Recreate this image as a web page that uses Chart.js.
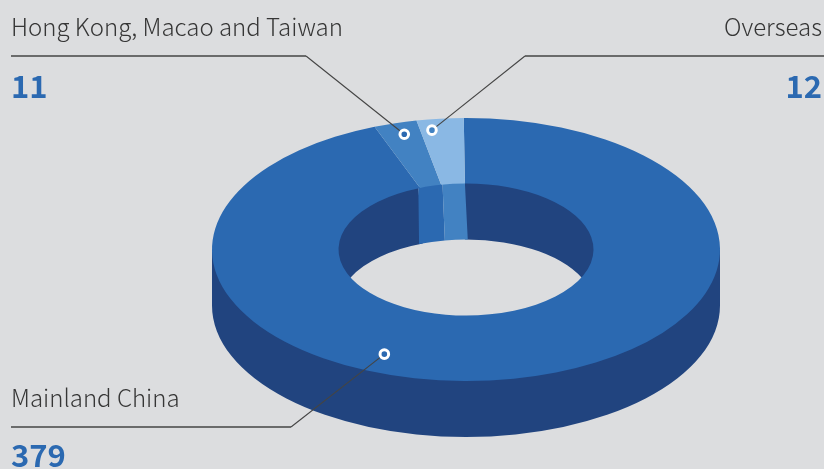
<!DOCTYPE html>
<html>
<head>
<meta charset="utf-8">
<style>
  html, body { margin: 0; padding: 0; background: #dcdddf; }
  canvas { display: block; }
</style>
<script src="https://cdn.jsdelivr.net/npm/chart.js@4"></script>
</head>
<body>
<canvas id="ring" width="824" height="469"></canvas>
<script>
// Number of sites by region
const categories = ['Mainland China', 'Hong Kong, Macao and Taiwan', 'Overseas'];
const values = [379, 11, 12];

const topColors = ['#2b69b1', '#4282c2', '#8ab8e4'];
const innerWallColors = ['#21447f', '#2b69b1', '#4282c2'];
const dotColors = ['#2b69b1', '#2b69b1', '#4282c2'];
const outerWallColor = '#21447f';
const numberColor = '#2b69b1';
const labelColor = '#363636';
const lineColor = '#444444';

// Tilted view of the ring
const tilt = { k: 0.5177, centerY: 249.5, depth: 56 };

// Inner wall seams lean slightly: degrees added to each segment's
// [start, end] at the top rim and at the bottom rim.
const wallLeanTop = [[0, -0.5], [-0.5, 0.8], [0.8, 0]];
const wallLeanBottom = [[0, 1.3], [-0.5, 1.7], [1.7, 1.3]];

// Callouts: label block, elbow of the leader and where it lands on the ring,
// the landing given as an angle (clockwise from the top, degrees) and radius.
const callouts = [
  { i: 0, align: 'left',  x: 11,  labelY: 407, numberY: 467, ruleY: 427, ruleFrom: 11,  elbow: 291, angle: 202, radius: 218 },
  { i: 1, align: 'left',  x: 11,  labelY: 36,  numberY: 98,  ruleY: 56,  ruleFrom: 11,  elbow: 306, angle: -15.5, radius: 231 },
  { i: 2, align: 'right', x: 822, labelY: 36,  numberY: 98,  ruleY: 56,  ruleFrom: 824, elbow: 525, angle: -8.4, radius: 233 }
];

const rad = deg => deg * Math.PI / 180;

const extrudedRing = {
  id: 'extrudedRing',
  beforeDatasetsDraw(chart) {
    const ctx = chart.ctx;
    const arcs = chart.getDatasetMeta(0).data;
    const { x, y, innerRadius, outerRadius } = arcs[0].getProps(['x', 'y', 'innerRadius', 'outerRadius'], true);
    const drop = tilt.depth / tilt.k;
    const tuck = 2; // walls run this far under the top face so no seam shows

    // All ring drawing happens in the flattened space until afterDatasetsDraw
    ctx.save();
    ctx.translate(0, tilt.centerY);
    ctx.scale(1, tilt.k);
    ctx.translate(0, -y);

    // Front band of the outer wall
    ctx.beginPath();
    ctx.moveTo(x + outerRadius, y);
    ctx.arc(x, y, outerRadius - tuck, 0, Math.PI);
    ctx.lineTo(x - outerRadius, y);
    ctx.lineTo(x - outerRadius, y + drop);
    ctx.arc(x, y + drop, outerRadius, Math.PI, 0, true);
    ctx.closePath();
    ctx.fillStyle = outerWallColor;
    ctx.fill();

    // Far side of the inner wall, seen through the hole
    ctx.save();
    ctx.beginPath();
    ctx.arc(x, y, innerRadius + tuck, 0, Math.PI * 2);
    ctx.clip();
    arcs.forEach((arc, i) => {
      const { startAngle, endAngle } = arc.getProps(['startAngle', 'endAngle'], true);
      ctx.beginPath();
      ctx.arc(x, y, innerRadius + tuck, startAngle + rad(wallLeanTop[i][0]), endAngle + rad(wallLeanTop[i][1]));
      ctx.arc(x, y + drop, innerRadius, endAngle + rad(wallLeanBottom[i][1]), startAngle + rad(wallLeanBottom[i][0]), true);
      ctx.closePath();
      ctx.fillStyle = innerWallColors[i];
      ctx.fill();
    });
    ctx.restore();
  },
  afterDatasetsDraw(chart) {
    const ctx = chart.ctx;
    ctx.restore();

    const { x } = chart.getDatasetMeta(0).data[0];
    callouts.forEach(c => {
      const px = x + c.radius * Math.sin(rad(c.angle));
      const py = tilt.centerY - c.radius * Math.cos(rad(c.angle)) * tilt.k;

      ctx.strokeStyle = lineColor;
      ctx.lineWidth = 1.5;
      ctx.beginPath();
      ctx.moveTo(c.ruleFrom, c.ruleY);
      ctx.lineTo(c.elbow, c.ruleY);
      ctx.stroke();
      ctx.lineWidth = 1.1;
      ctx.beginPath();
      ctx.moveTo(c.elbow, c.ruleY);
      ctx.lineTo(px, py);
      ctx.stroke();

      ctx.beginPath();
      ctx.arc(px, py, 4.3, 0, Math.PI * 2);
      ctx.fillStyle = dotColors[c.i];
      ctx.fill();
      ctx.lineWidth = 3;
      ctx.strokeStyle = '#ffffff';
      ctx.stroke();

      ctx.textAlign = c.align;
      ctx.textBaseline = 'alphabetic';
      ctx.fillStyle = labelColor;
      ctx.font = '300 24px "Noto Sans CJK SC", "Noto Sans", sans-serif';
      ctx.fillText(categories[c.i], c.x, c.labelY);
      ctx.fillStyle = numberColor;
      ctx.font = '700 31px "Noto Sans CJK SC", "Noto Sans", sans-serif';
      ctx.fillText(String(values[c.i]), c.x, c.numberY);
    });
  }
};

new Chart(document.getElementById('ring'), {
  type: 'doughnut',
  data: {
    labels: categories,
    datasets: [{
      data: values,
      backgroundColor: topColors,
      borderWidth: 0,
      clip: false
    }]
  },
  options: {
    responsive: false,
    animation: false,
    radius: 254,
    cutout: '50.2%',
    rotation: -0.5,
    layout: { padding: { left: 108 } },
    plugins: { legend: { display: false }, tooltip: { enabled: false } }
  },
  plugins: [extrudedRing]
});
</script>
</body>
</html>
